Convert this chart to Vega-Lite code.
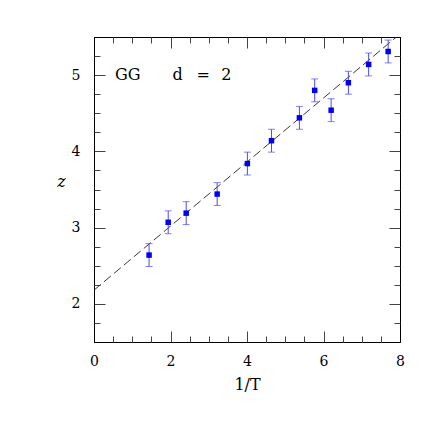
{
  "$schema": "https://vega.github.io/schema/vega-lite/v6.json",
  "autosize": "none",
  "width": 306,
  "height": 305,
  "padding": {"left": 94, "top": 37, "right": 36, "bottom": 94},
  "background": "white",
  "config": {
    "view": {"stroke": "black", "strokeWidth": 1},
    "font": "DejaVu Serif",
    "axis": {
      "domainColor": "black",
      "tickColor": "#444",
      "grid": false,
      "labelFont": "DejaVu Serif",
      "titleFont": "DejaVu Serif",
      "labelFontSize": 14,
      "titleFontSize": 16,
      "titleFontWeight": "normal",
      "labelColor": "black",
      "titleColor": "black",
      "labelFlush": false
    }
  },
  "datasets": {
    "pts": [
      {"x": 1.44, "z": 2.64, "lo": 2.49, "hi": 2.79},
      {"x": 1.94, "z": 3.07, "lo": 2.92, "hi": 3.22},
      {"x": 2.41, "z": 3.19, "lo": 3.04, "hi": 3.34},
      {"x": 3.22, "z": 3.44, "lo": 3.29, "hi": 3.59},
      {"x": 4.01, "z": 3.84, "lo": 3.69, "hi": 3.99},
      {"x": 4.64, "z": 4.14, "lo": 3.99, "hi": 4.29},
      {"x": 5.37, "z": 4.44, "lo": 4.29, "hi": 4.59},
      {"x": 5.77, "z": 4.8, "lo": 4.65, "hi": 4.95},
      {"x": 6.2, "z": 4.54, "lo": 4.39, "hi": 4.69},
      {"x": 6.65, "z": 4.9, "lo": 4.75, "hi": 5.05},
      {"x": 7.18, "z": 5.14, "lo": 4.99, "hi": 5.29},
      {"x": 7.69, "z": 5.31, "lo": 5.16, "hi": 5.46}
    ],
    "fit": [
      {"x": 0, "z": 2.18},
      {"x": 8, "z": 5.54}
    ],
    "notes": [
      {"x": 0.55, "z": 5.0, "t": "GG", "it": "normal"},
      {"x": 2.05, "z": 5.0, "t": "d", "it": "italic"},
      {"x": 2.68, "z": 5.0, "t": "=", "it": "normal"},
      {"x": 3.33, "z": 5.0, "t": "2", "it": "normal"}
    ]
  },
  "resolve": {"axis": {"x": "independent", "y": "independent"}},
  "layer": [
    {
      "data": {"name": "fit"},
      "mark": {"type": "line", "clip": true, "color": "#222", "strokeWidth": 0.9, "strokeDash": [9, 4]},
      "encoding": {
        "x": {
          "field": "x", "type": "quantitative",
          "scale": {"domain": [0, 8], "nice": false},
          "axis": {
            "orient": "bottom", "title": "1/T", "format": "d",
            "values": [0, 2, 4, 6, 8],
            "tickSize": -11,
            "labelPadding": 23, "titlePadding": 8
          }
        },
        "y": {
          "field": "z", "type": "quantitative",
          "scale": {"domain": [1.5, 5.5], "nice": false, "zero": false},
          "axis": {
            "orient": "left", "title": "z", "titleAngle": 0, "titleFontStyle": "italic", "format": "d",
            "values": [2, 3, 4, 5],
            "tickSize": -11,
            "labelPadding": 25, "titlePadding": 10
          }
        }
      }
    },
    {
      "data": {"name": "pts"},
      "mark": {"type": "rule", "color": "#4b4bf0", "strokeWidth": 1},
      "encoding": {
        "x": {
          "field": "x", "type": "quantitative",
          "axis": {"orient": "top", "title": null, "labels": false, "values": [0, 2, 4, 6, 8], "tickSize": -11}
        },
        "y": {
          "field": "lo", "type": "quantitative",
          "axis": {"orient": "right", "title": null, "labels": false, "values": [2, 3, 4, 5], "tickSize": -11}
        },
        "y2": {"field": "hi"}
      }
    },
    {
      "data": {"name": "pts"},
      "mark": {"type": "tick", "orient": "horizontal", "color": "#4b4bf0", "size": 7, "thickness": 1},
      "encoding": {
        "x": {
          "field": "x", "type": "quantitative",
          "axis": {
            "orient": "bottom", "title": null, "labels": false, "domain": false,
            "values": [0.5, 1, 1.5, 2.5, 3, 3.5, 4.5, 5, 5.5, 6.5, 7, 7.5], "tickSize": -6
          }
        },
        "y": {
          "field": "lo", "type": "quantitative",
          "axis": {
            "orient": "left", "title": null, "labels": false, "domain": false,
            "values": [1.75, 2.25, 2.5, 2.75, 3.25, 3.5, 3.75, 4.25, 4.5, 4.75, 5.25], "tickSize": -6
          }
        }
      }
    },
    {
      "data": {"name": "pts"},
      "mark": {"type": "tick", "orient": "horizontal", "color": "#4b4bf0", "size": 7, "thickness": 1},
      "encoding": {
        "x": {
          "field": "x", "type": "quantitative",
          "axis": {
            "orient": "top", "title": null, "labels": false, "domain": false,
            "values": [0.5, 1, 1.5, 2.5, 3, 3.5, 4.5, 5, 5.5, 6.5, 7, 7.5], "tickSize": -6
          }
        },
        "y": {
          "field": "hi", "type": "quantitative",
          "axis": {
            "orient": "right", "title": null, "labels": false, "domain": false,
            "values": [1.75, 2.25, 2.5, 2.75, 3.25, 3.5, 3.75, 4.25, 4.5, 4.75, 5.25], "tickSize": -6
          }
        }
      }
    },
    {
      "data": {"name": "pts"},
      "mark": {"type": "square", "color": "#0000ee", "size": 30, "opacity": 1},
      "encoding": {
        "x": {"field": "x", "type": "quantitative", "axis": null},
        "y": {"field": "z", "type": "quantitative", "axis": null}
      }
    },
    {
      "data": {"name": "notes"},
      "mark": {"type": "text", "align": "left", "baseline": "middle", "fontSize": 16, "font": "DejaVu Serif", "color": "black"},
      "encoding": {
        "x": {"field": "x", "type": "quantitative", "axis": null},
        "y": {"field": "z", "type": "quantitative", "axis": null},
        "text": {"field": "t"},
        "fontStyle": {"field": "it", "type": "nominal", "scale": null}
      }
    }
  ]
}
